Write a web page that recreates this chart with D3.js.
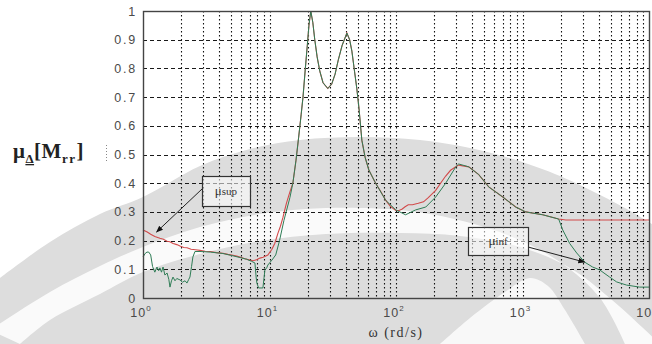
<!DOCTYPE html>
<html>
<head>
<meta charset="utf-8">
<script src="https://cdn.jsdelivr.net/npm/d3@7"></script>
<style>
  html, body { margin: 0; padding: 0; background: #fff; }
  svg { display: block; }
</style>
</head>
<body>
<svg id="chart" width="652" height="344"></svg>
<script>
// Frequency grid (rad/s) and structured singular value bounds
const omegaSup = [1.0, 1.08, 1.15, 1.24, 1.29, 1.36, 1.45, 1.55, 1.63, 1.73, 1.85, 1.96, 2.1, 2.23, 2.4, 2.6, 2.82, 3.1, 3.4, 3.8, 4.28, 4.7, 5.14, 5.5, 5.84, 6.4, 7.0, 7.4, 7.9, 8.4, 8.9, 9.7, 10.45, 11.0, 11.65, 12.2, 12.76, 13.6, 14.5, 15.3, 16.2, 17.0, 17.8, 18.4, 19.2, 19.9, 20.5, 21.2, 22.0, 22.8, 23.8, 25.0, 26.5, 28.9, 31, 33, 35, 37.5, 40.9, 43, 44.8, 47, 49, 51, 53.7, 57, 61, 69, 76, 83, 90, 99.6, 106, 112, 118, 125, 135, 150, 165, 180, 206, 225, 247, 270, 297, 313, 376, 451, 541, 698, 884, 1060, 1445, 1932, 2200, 3000, 5000, 10000];
const muSup = [0.237, 0.230, 0.222, 0.214, 0.212, 0.208, 0.205, 0.198, 0.196, 0.190, 0.186, 0.181, 0.176, 0.175, 0.170, 0.168, 0.166, 0.163, 0.162, 0.158, 0.156, 0.152, 0.149, 0.146, 0.143, 0.137, 0.132, 0.130, 0.133, 0.139, 0.142, 0.150, 0.170, 0.190, 0.225, 0.250, 0.280, 0.330, 0.370, 0.400, 0.480, 0.560, 0.640, 0.700, 0.800, 0.880, 0.950, 1.000, 0.960, 0.900, 0.840, 0.790, 0.750, 0.730, 0.745, 0.780, 0.830, 0.880, 0.923, 0.900, 0.860, 0.790, 0.730, 0.660, 0.550, 0.490, 0.446, 0.400, 0.370, 0.340, 0.320, 0.305, 0.305, 0.310, 0.318, 0.325, 0.325, 0.330, 0.335, 0.350, 0.375, 0.400, 0.425, 0.445, 0.457, 0.463, 0.457, 0.430, 0.387, 0.352, 0.317, 0.300, 0.290, 0.275, 0.272, 0.272, 0.272, 0.272];

const omegaInf = [1.0, 1.04, 1.075, 1.11, 1.15, 1.19, 1.24, 1.29, 1.33, 1.36, 1.40, 1.44, 1.49, 1.55, 1.60, 1.634, 1.68, 1.726, 1.79, 1.85, 1.96, 2.05, 2.15, 2.226, 2.3, 2.35, 2.42, 2.48, 2.575, 2.82, 3.4, 4.28, 5.14, 5.84, 6.6, 7.2, 7.67, 7.85, 7.95, 8.2, 8.87, 9.05, 9.2, 9.5, 9.71, 10.45, 11.2, 12.0, 13.0, 14.5, 15.3, 16.2, 17.0, 17.8, 18.4, 19.2, 19.9, 20.5, 21.2, 22.0, 22.8, 23.8, 25.0, 26.5, 28.9, 31, 33, 35, 37.5, 40.9, 43, 44.8, 47, 49, 51, 53.7, 57, 61, 69, 83, 99.6, 119, 143, 172, 206, 247, 297, 313, 376, 451, 541, 698, 884, 1060, 1445, 1932, 2080, 2360, 2680, 3100, 3580, 4070, 4880, 5550, 6650, 8430, 10000];
const muInf = [0.143, 0.155, 0.160, 0.160, 0.150, 0.110, 0.090, 0.108, 0.095, 0.105, 0.090, 0.108, 0.080, 0.087, 0.065, 0.038, 0.060, 0.073, 0.060, 0.068, 0.063, 0.055, 0.060, 0.052, 0.065, 0.073, 0.110, 0.143, 0.162, 0.162, 0.160, 0.155, 0.147, 0.141, 0.135, 0.128, 0.122, 0.070, 0.052, 0.035, 0.035, 0.070, 0.098, 0.105, 0.115, 0.132, 0.150, 0.200, 0.270, 0.350, 0.400, 0.480, 0.560, 0.640, 0.700, 0.800, 0.880, 0.950, 1.000, 0.960, 0.900, 0.840, 0.790, 0.750, 0.730, 0.745, 0.780, 0.830, 0.880, 0.923, 0.900, 0.860, 0.790, 0.730, 0.660, 0.550, 0.490, 0.446, 0.400, 0.340, 0.307, 0.290, 0.307, 0.317, 0.352, 0.400, 0.457, 0.467, 0.457, 0.430, 0.387, 0.352, 0.317, 0.300, 0.290, 0.275, 0.237, 0.190, 0.157, 0.125, 0.108, 0.098, 0.073, 0.056, 0.045, 0.038, 0.038];

// Axis ticks
const yTicks = [0, 0.1, 0.2, 0.3, 0.4, 0.5, 0.6, 0.7, 0.8, 0.9, 1];
const yTickLabels = ["0", "0.1", "0.2", "0.3", "0.4", "0.5", "0.6", "0.7", "0.8", "0.9", "1"];
const xDecades = [0, 1, 2, 3, 4];

// Annotations: label, subscript and the point the arrow points at
const noteSup = { main: "μ", sub: "sup", omega: 1.28, mu: 0.23 };
const noteInf = { main: "μ", sub: "inf", omega: 3100, mu: 0.125 };

const W = 652, H = 344;
const svg = d3.select("#chart");

const plot = { left: 143, right: 649, top: 11, bottom: 298 };
const x = d3.scaleLog().domain([1, 1e4]).range([plot.left, plot.right]);
const y = d3.scaleLinear().domain([0, 1]).range([plot.bottom, plot.top]);

// Faint grey backdrop rings behind the figure
function drawBackdrop() {
  const g = svg.append("g");
  const curve = d3.line().curve(d3.curveCatmullRom.alpha(0.5));
  const outer = [[0, 278], [50, 242], [100, 214], [143, 197], [200, 166], [250, 149], [300, 140], [360, 137], [420, 140], [470, 148], [516, 160], [560, 176], [590, 190], [625, 208], [652, 224]];
  g.append("path")
    .attr("d", curve(outer) + `L${W},${H}L0,${H}Z`)
    .attr("fill", "#dddddd");
  const bandTop = [[-10, 330], [50, 292], [100, 266], [143, 247], [200, 227], [260, 214], [326, 208], [400, 210], [450, 218], [510, 236], [560, 262], [600, 298], [625, 344]];
  const bandBot = [[660, 344], [612, 300], [570, 268], [520, 247], [460, 236], [400, 233], [326, 234], [260, 241], [200, 254], [143, 272], [100, 294], [50, 320], [20, 344]];
  g.append("path")
    .attr("d", curve(bandTop) + "L" + curve(bandBot).slice(1) + "Z")
    .attr("fill", "#ffffff")
    .attr("opacity", 0.85);
  const wedge = [[440, 344], [470, 318], [505, 292], [530, 278], [548, 286], [565, 310], [585, 344]];
  g.append("path")
    .attr("d", curve(wedge) + "Z")
    .attr("fill", "#ffffff")
    .attr("opacity", 0.8);
}
drawBackdrop();

// Grid
const grid = svg.append("g");
const minor = [];
xDecades.slice(0, -1).forEach(d => {
  for (let k = 1; k <= 9; k++) {
    const v = k * Math.pow(10, d);
    if (v > 1 && v < 1e4) minor.push(v);
  }
});
grid.selectAll("line.v").data(minor).join("line")
  .attr("class", "v")
  .attr("x1", d => Math.round(x(d)) + 0.5).attr("x2", d => Math.round(x(d)) + 0.5)
  .attr("y1", plot.top).attr("y2", plot.bottom)
  .attr("stroke", "#111").attr("stroke-width", 1.1)
  .attr("stroke-dasharray", "1.5,2.5");
grid.selectAll("line.h").data(yTicks.filter(t => t > 0 && t < 1)).join("line")
  .attr("class", "h")
  .attr("x1", plot.left).attr("x2", plot.right)
  .attr("y1", d => Math.round(y(d)) + 0.5).attr("y2", d => Math.round(y(d)) + 0.5)
  .attr("stroke", "#1a1a1a").attr("stroke-width", 1)
  .attr("stroke-dasharray", "4,3");

// Curves
const line = d3.line().x(d => x(d[0])).y(d => y(d[1]));
svg.append("path")
  .datum(d3.zip(omegaSup, muSup))
  .attr("d", line)
  .attr("fill", "none").attr("stroke", "#d24a4a").attr("stroke-width", 1.1);
svg.append("path")
  .datum(d3.zip(omegaInf, muInf))
  .attr("d", line)
  .attr("fill", "none").attr("stroke", "#2f7d56").attr("stroke-width", 1);

// Frame
svg.append("rect")
  .attr("x", plot.left + 0.5).attr("y", plot.top + 0.5)
  .attr("width", plot.right - plot.left).attr("height", plot.bottom - plot.top)
  .attr("fill", "none").attr("stroke", "#444").attr("stroke-width", 1.4);

// Y tick labels
const tickFont = "'Liberation Sans', Arial, sans-serif";
svg.append("g").selectAll("text").data(yTicks).join("text")
  .attr("x", 137).attr("y", d => y(d) + 4.5)
  .attr("text-anchor", "end")
  .attr("font-family", tickFont).attr("font-size", 12.5)
  .attr("letter-spacing", 1.8)
  .attr("fill", "#4a4a4a")
  .text((d, i) => yTickLabels[i]);

// X tick labels (powers of ten)
const xt = svg.append("g").selectAll("text").data(xDecades).join("text")
  .attr("x", d => x(Math.pow(10, d)) - 2).attr("y", 317)
  .attr("text-anchor", "middle")
  .attr("font-family", tickFont).attr("font-size", 12.5)
  .attr("letter-spacing", 1)
  .attr("fill", "#4a4a4a");
xt.append("tspan").text("10");
xt.append("tspan").attr("dy", -6).attr("font-size", 8).text(d => d);

// Axis titles
svg.append("text")
  .attr("x", 396).attr("y", 337)
  .attr("text-anchor", "middle")
  .attr("font-family", "'Liberation Serif', 'Times New Roman', serif")
  .attr("font-size", 14).attr("letter-spacing", 1.5)
  .attr("fill", "#333")
  .text("ω  (rd/s)");

const yl = svg.append("text")
  .attr("x", 13).attr("y", 158)
  .attr("font-family", "'Liberation Serif', 'Times New Roman', serif")
  .attr("font-weight", "bold").attr("font-size", 21)
  .attr("letter-spacing", 0.5)
  .attr("fill", "#222");
yl.append("tspan").text("μ");
yl.append("tspan").attr("dy", 5).attr("font-size", 13).attr("text-decoration", "underline").text("Δ");
yl.append("tspan").attr("dy", -5).text("[M");
yl.append("tspan").attr("dy", 5).attr("font-size", 13).attr("letter-spacing", 1.5).text("rr");
yl.append("tspan").attr("dy", -5).text("]");
svg.append("line")
  .attr("x1", 106.5).attr("x2", 106.5).attr("y1", 145).attr("y2", 162)
  .attr("stroke", "#888").attr("stroke-dasharray", "1,2");

// Annotation boxes with arrows
svg.append("defs").append("marker")
  .attr("id", "tip").attr("viewBox", "0 0 10 10")
  .attr("refX", 9).attr("refY", 5)
  .attr("markerWidth", 7).attr("markerHeight", 7)
  .attr("orient", "auto-start-reverse")
  .append("path").attr("d", "M0,1L10,5L0,9Z").attr("fill", "#111");

function note(n, box, from) {
  const g = svg.append("g");
  g.append("line")
    .attr("x1", from[0]).attr("y1", from[1])
    .attr("x2", x(n.omega)).attr("y2", y(n.mu))
    .attr("stroke", "#222").attr("stroke-width", 1)
    .attr("marker-end", "url(#tip)");
  g.append("rect")
    .attr("x", box[0] + 0.5).attr("y", box[1] + 0.5)
    .attr("width", box[2]).attr("height", box[3])
    .attr("fill", "#ffffff").attr("fill-opacity", 0.55)
    .attr("stroke", "#333").attr("stroke-width", 1.2);
  const t = g.append("text")
    .attr("x", box[0] + box[2] / 2).attr("y", box[1] + box[3] / 2 + 4)
    .attr("text-anchor", "middle")
    .attr("font-family", "'Liberation Serif', 'Times New Roman', serif")
    .attr("font-size", 13).attr("fill", "#333");
  t.append("tspan").text(n.main);
  t.append("tspan").attr("font-size", 11).text(n.sub);
}
note(noteSup, [202, 176, 48, 30], [202, 189]);
note(noteInf, [468, 227, 60, 28], [528, 247]);
</script>
</body>
</html>
